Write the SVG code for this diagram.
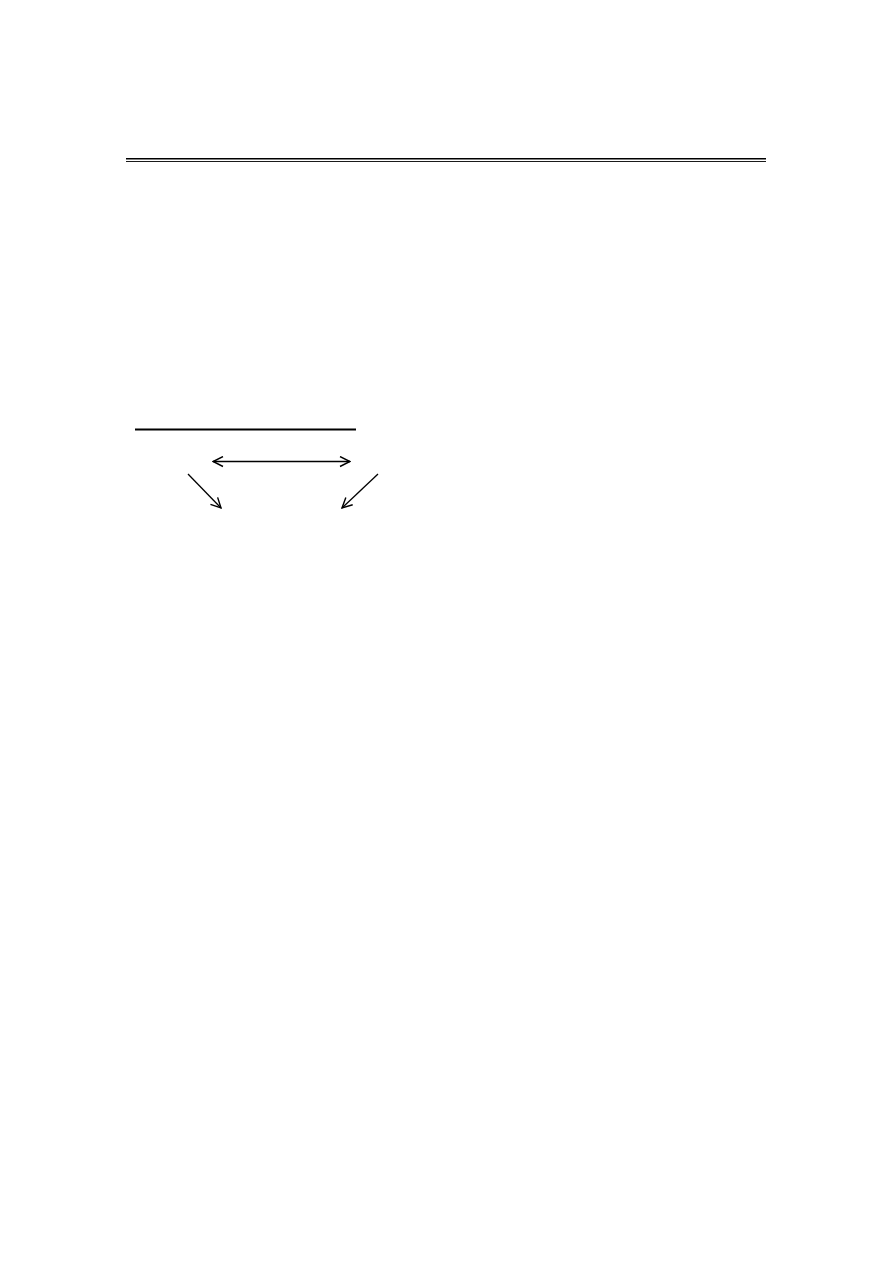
<svg xmlns="http://www.w3.org/2000/svg" width="893" height="1263" viewBox="0 0 893 1263">
<style>
.ln{stroke:#000;fill:none}
.ar{stroke:#000;stroke-width:1.3;fill:none}
</style>
<defs>
<marker id="ah" viewBox="0 0 12 12" refX="11" refY="6" markerWidth="12" markerHeight="12" markerUnits="userSpaceOnUse" orient="auto-start-reverse">
<path d="M1,1 L11,6 L1,11" stroke="#000" stroke-width="1.4" fill="none"/>
</marker>
</defs>
<rect width="893" height="1263" fill="#fff"/>
<g id="header-rule">
<line class="ln" x1="126" y1="158.8" x2="766" y2="158.8" stroke-width="1.6"/>
<line class="ln" x1="126" y1="161.5" x2="766" y2="161.5" stroke-width="0.9"/>
</g>
<g id="underline">
<line class="ln" x1="135" y1="429.5" x2="356" y2="429.5" stroke-width="2"/>
</g>
<g id="connectors">
<line class="ar" x1="213" y1="461.5" x2="350" y2="461.5" marker-start="url(#ah)" marker-end="url(#ah)"/>
<line class="ar" x1="188" y1="474" x2="221" y2="508" marker-end="url(#ah)"/>
<line class="ar" x1="378" y1="474" x2="342" y2="508" marker-end="url(#ah)"/>
</g>
</svg>
